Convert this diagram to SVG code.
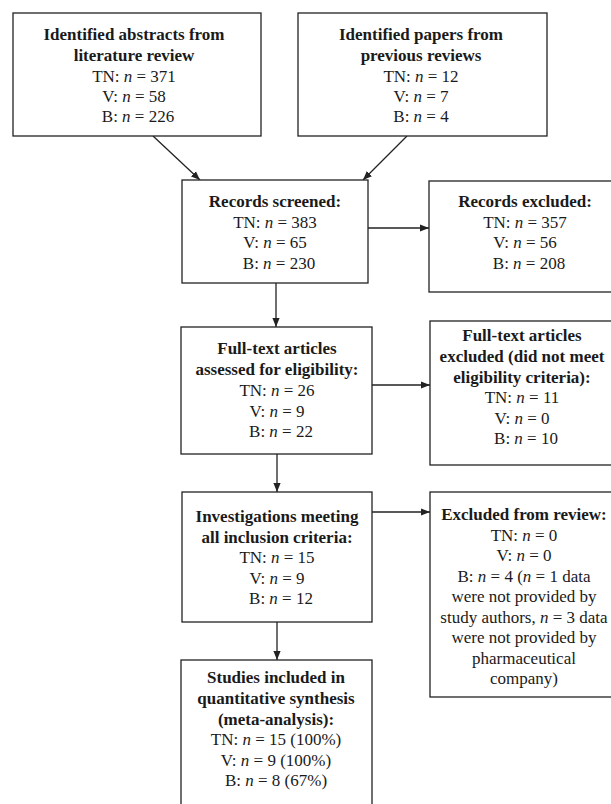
<svg xmlns="http://www.w3.org/2000/svg" width="611" height="804" viewBox="0 0 611 804">
<style>
.box{fill:#fff;stroke:#222;stroke-width:1.3}
text{font-family:"Liberation Serif","Times New Roman",serif;font-size:17px;fill:#1a1a1a;text-anchor:middle}
.b{font-weight:bold}
.i{font-style:italic}
.c{stroke:#222;stroke-width:1.3;fill:none}
</style>
<defs>
<marker id="ah" viewBox="0 0 10 10" refX="10" refY="5" markerWidth="9" markerHeight="9" markerUnits="userSpaceOnUse" orient="auto">
<path d="M0,1 L10,5 L0,9 z" fill="#222"/>
</marker>
</defs>
<rect width="611" height="804" fill="#fff"/>
<g id="connectors">
<line class="c" x1="153" y1="136" x2="200" y2="180" marker-end="url(#ah)"/>
<line class="c" x1="407" y1="136" x2="363" y2="180" marker-end="url(#ah)"/>
<line class="c" x1="368" y1="228" x2="429" y2="228" marker-end="url(#ah)"/>
<line class="c" x1="276" y1="283" x2="276" y2="327" marker-end="url(#ah)"/>
<line class="c" x1="372" y1="385" x2="430" y2="385" marker-end="url(#ah)"/>
<line class="c" x1="277" y1="454" x2="277" y2="492" marker-end="url(#ah)"/>
<line class="c" x1="372" y1="512" x2="430" y2="512" marker-end="url(#ah)"/>
<line class="c" x1="277" y1="622" x2="277" y2="660" marker-end="url(#ah)"/>
</g>
<g id="abstracts">
<rect class="box" x="13" y="13" width="248" height="123"/>
<text x="134" y="40" class="b">Identified abstracts from</text>
<text x="134" y="60.5" class="b">literature review</text>
<text x="134" y="81.5">TN: <tspan class="i">n</tspan> = 371</text>
<text x="134" y="102">V: <tspan class="i">n</tspan> = 58</text>
<text x="138" y="122">B: <tspan class="i">n</tspan> = 226</text>
</g>
<g id="papers">
<rect class="box" x="298" y="13" width="249" height="123"/>
<text x="421" y="40" class="b">Identified papers from</text>
<text x="421" y="60.5" class="b">previous reviews</text>
<text x="421" y="81.5">TN: <tspan class="i">n</tspan> = 12</text>
<text x="421" y="102">V: <tspan class="i">n</tspan> = 7</text>
<text x="421" y="122">B: <tspan class="i">n</tspan> = 4</text>
</g>
<g id="screened">
<rect class="box" x="182" y="180" width="186" height="103"/>
<text x="275" y="207" class="b">Records screened:</text>
<text x="275" y="227.5">TN: <tspan class="i">n</tspan> = 383</text>
<text x="275" y="248">V: <tspan class="i">n</tspan> = 65</text>
<text x="279" y="268.5">B: <tspan class="i">n</tspan> = 230</text>
</g>
<g id="records-excluded">
<rect class="box" x="429" y="181" width="195" height="111"/>
<text x="525" y="207" class="b">Records excluded:</text>
<text x="525" y="227.5">TN: <tspan class="i">n</tspan> = 357</text>
<text x="525" y="248">V: <tspan class="i">n</tspan> = 56</text>
<text x="529" y="268.5">B: <tspan class="i">n</tspan> = 208</text>
</g>
<g id="assessed">
<rect class="box" x="181" y="327" width="191" height="127"/>
<text x="277" y="354" class="b">Full-text articles</text>
<text x="277" y="375" class="b">assessed for eligibility:</text>
<text x="277" y="396">TN: <tspan class="i">n</tspan> = 26</text>
<text x="277" y="416.5">V: <tspan class="i">n</tspan> = 9</text>
<text x="281" y="437">B: <tspan class="i">n</tspan> = 22</text>
</g>
<g id="fulltext-excluded">
<rect class="box" x="430" y="321" width="194" height="144"/>
<text x="522" y="341" class="b">Full-text articles</text>
<text x="522" y="362" class="b">excluded (did not meet</text>
<text x="522" y="382.5" class="b">eligibility criteria):</text>
<text x="522" y="403">TN: <tspan class="i">n</tspan> = 11</text>
<text x="522" y="423.5">V: <tspan class="i">n</tspan> = 0</text>
<text x="526" y="444">B: <tspan class="i">n</tspan> = 10</text>
</g>
<g id="investigations">
<rect class="box" x="182" y="492" width="190" height="130"/>
<text x="277" y="522" class="b">Investigations meeting</text>
<text x="277" y="542.5" class="b">all inclusion criteria:</text>
<text x="277" y="563">TN: <tspan class="i">n</tspan> = 15</text>
<text x="277" y="583.5">V: <tspan class="i">n</tspan> = 9</text>
<text x="281" y="604">B: <tspan class="i">n</tspan> = 12</text>
</g>
<g id="review-excluded">
<rect class="box" x="430" y="492" width="194" height="205"/>
<text x="524" y="520" class="b">Excluded from review:</text>
<text x="524" y="540.5">TN: <tspan class="i">n</tspan> = 0</text>
<text x="524" y="561">V: <tspan class="i">n</tspan> = 0</text>
<text x="524" y="581.5">B: <tspan class="i">n</tspan> = 4 (<tspan class="i">n</tspan> = 1 data</text>
<text x="524" y="602">were not provided by</text>
<text x="524" y="622.5">study authors, <tspan class="i">n</tspan> = 3 data</text>
<text x="524" y="643">were not provided by</text>
<text x="524" y="663.5">pharmaceutical</text>
<text x="524" y="684">company)</text>
</g>
<g id="included">
<rect class="box" x="181" y="660" width="191" height="160"/>
<text x="276" y="683" class="b">Studies included in</text>
<text x="276" y="704" class="b">quantitative synthesis</text>
<text x="276" y="724.5" class="b">(meta-analysis):</text>
<text x="276" y="745">TN: <tspan class="i">n</tspan> = 15 (100%)</text>
<text x="276" y="765.5">V: <tspan class="i">n</tspan> = 9 (100%)</text>
<text x="276" y="786">B: <tspan class="i">n</tspan> = 8 (67%)</text>
</g>
</svg>
